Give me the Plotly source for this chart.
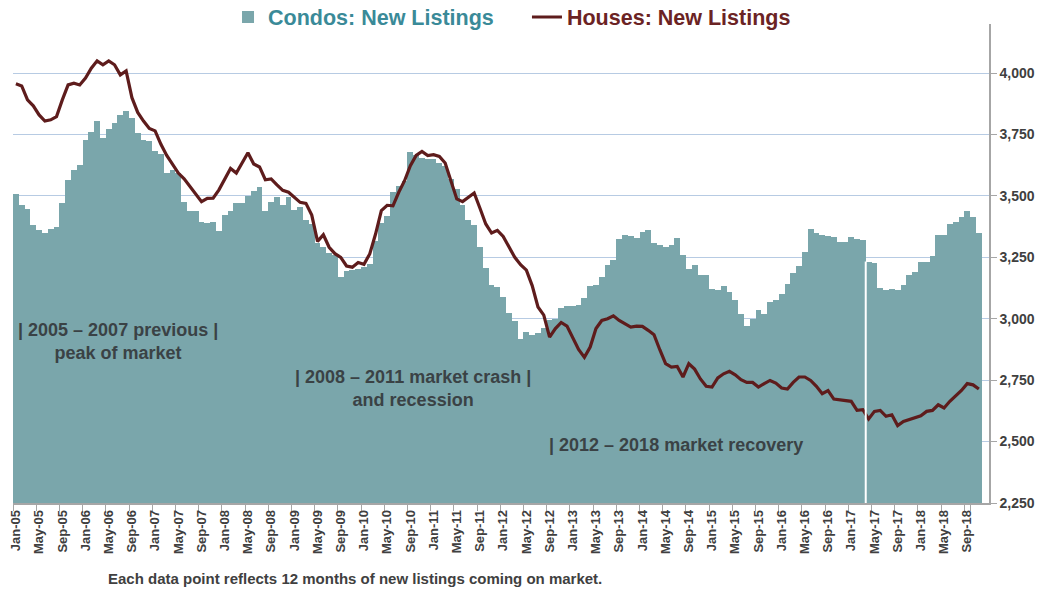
import plotly.graph_objects as go

# ---- data -------------------------------------------------------------
months = ["Jan", "Feb", "Mar", "Apr", "May", "Jun",
          "Jul", "Aug", "Sep", "Oct", "Nov", "Dec"]
categories = [f"{m}-{y:02d}" for y in range(5, 19) for m in months][:167]  # Jan-05 .. Nov-18

condos = [
    3508, 3464, 3447, 3381, 3360, 3351, 3365, 3372, 3471, 3563, 3607, 3627,
    3729, 3762, 3807, 3736, 3772, 3799, 3830, 3844, 3817, 3756, 3729, 3722,
    3681, 3670, 3593, 3607, 3595, 3477, 3437, 3437, 3392, 3390, 3392, 3358,
    3423, 3440, 3471, 3473, 3498, 3520, 3535, 3440, 3475, 3497, 3462, 3495,
    3442, 3456, 3402, 3385, 3310, 3294, 3268, 3258, 3172, 3193, 3197, 3202,
    3210, 3225, 3315, 3390, 3420, 3518, 3539, 3559, 3679, 3668, 3654, 3650,
    3650, 3634, 3620, 3569, 3528, 3464, 3403, 3383, 3294, 3207, 3138, 3129,
    3090, 3025, 2990, 2917, 2948, 2935, 2944, 2962, 2996, 2999, 3044, 3050,
    3050, 3057, 3084, 3132, 3139, 3170, 3220, 3240, 3325, 3342, 3335, 3330,
    3355, 3360, 3310, 3301, 3294, 3301, 3328, 3260, 3203, 3220, 3179, 3177,
    3121, 3116, 3135, 3111, 3075, 3020, 2972, 3000, 3037, 3020, 3067, 3075,
    3100, 3141, 3187, 3214, 3270, 3365, 3350, 3343, 3336, 3333, 3311, 3311,
    3333, 3325, 3319, 3233, 3229, 3125, 3118, 3123, 3118, 3139, 3179, 3189,
    3233, 3233, 3254, 3342, 3342, 3387, 3392, 3414, 3437, 3414, 3349,
]

houses = [
    3957, 3948, 3891, 3867, 3830, 3805, 3810, 3823, 3891, 3952, 3959, 3952,
    3980, 4020, 4050, 4034, 4050, 4034, 3993, 4009, 3900, 3840, 3805, 3775,
    3765, 3710, 3665, 3627, 3593, 3570, 3539, 3512, 3477, 3490, 3491, 3525,
    3566, 3612, 3593, 3634, 3676, 3630, 3618, 3566, 3569, 3545, 3523, 3515,
    3493, 3474, 3470, 3422, 3315, 3342, 3291, 3265, 3250, 3215, 3210, 3229,
    3222, 3264, 3345, 3440, 3462, 3460, 3515, 3562, 3623, 3665, 3681, 3664,
    3668, 3661, 3634, 3560, 3488, 3477, 3493, 3512, 3450, 3386, 3349, 3360,
    3335, 3295, 3250, 3220, 3198, 3135, 3048, 3015, 2925, 2960, 2985, 2970,
    2925, 2875, 2843, 2885, 2960, 2993, 3000, 3012, 2993, 2978, 2966, 2970,
    2969, 2953, 2935, 2874, 2817, 2803, 2806, 2763, 2817, 2795, 2755, 2725,
    2722, 2759, 2776, 2786, 2772, 2752, 2741, 2741, 2722, 2736, 2749, 2738,
    2718, 2714, 2741, 2763, 2763, 2749, 2725, 2695, 2708, 2673, 2670, 2670,
    2664, 2627, 2630, 2592, 2623, 2627, 2603, 2609, 2565, 2582, 2589, 2596,
    2605, 2623, 2627, 2650, 2637, 2664, 2684, 2708, 2736, 2731, 2714,
]

y_ticks = [2250, 2500, 2750, 3000, 3250, 3500, 3750, 4000]
x_tick_labels = categories[::4]
gap_month = "Apr-17"  # thin white separator before this month's bar

notes = [
    ("| 2005 – 2007 previous |<br>peak of market", 0.108, 0.338),
    ("| 2008 – 2011 market crash |<br>and recession", 0.410, 0.240),
    ("| 2012 – 2018 market recovery", 0.679, 0.121),
]
footnote = "Each data point reflects 12 months of new listings coming on market."

# ---- styles -------------------------------------------------------------
FONT = "Arial, 'Liberation Sans', sans-serif"
BAR = "#7aa6ab"
LINE = "#5e1c1c"
GRID = "#b7cbe3"
AXIS = "#a6a6a6"
TXT = "#404040"

fig = go.Figure()
fig.add_trace(go.Bar(
    x=categories, y=condos, name="Condos: New Listings",
    marker=dict(color=BAR, line=dict(width=0)),
    legend="legend",
))
fig.add_trace(go.Scatter(
    x=categories, y=houses, name="Houses: New Listings", mode="lines",
    line=dict(color=LINE, width=3.2),
    legend="legend2",
))

gi = categories.index(gap_month)
fig.add_shape(type="line", xref="x", yref="y",
              x0=gi - 0.5, x1=gi - 0.5, y0=y_ticks[0],
              y1=min(condos[gi - 1], condos[gi]),
              line=dict(color="white", width=2), layer="above")

for text, x, y in notes:
    fig.add_annotation(text=text, xref="paper", yref="paper",
                       x=x, y=y, xanchor="center", yanchor="middle",
                       showarrow=False, align="center",
                       font=dict(family=FONT, size=18, color="#3a4245", weight="bold"))

fig.add_annotation(text=footnote, xref="paper", yref="paper",
                   x=0.35, y=-0.157, xanchor="center", yanchor="middle",
                   showarrow=False,
                   font=dict(family=FONT, size=15, color=TXT, weight="bold"))

fig.update_layout(
    width=1045, height=590,
    margin=dict(l=13, r=56, t=24, b=87, autoexpand=False),
    paper_bgcolor="white", plot_bgcolor="white",
    bargap=0,
    font=dict(family=FONT, color=TXT),
    legend=dict(orientation="h", x=0.2203, y=1.0146, xanchor="left", yanchor="middle",
                font=dict(family=FONT, size=21.5, color="#3a8a98", weight="bold"),
                bgcolor="rgba(0,0,0,0)", itemwidth=30),
    legend2=dict(orientation="h", x=0.5266, y=1.0146, xanchor="left", yanchor="middle",
                 font=dict(family=FONT, size=21.5, color="#6b2324", weight="bold"),
                 bgcolor="rgba(0,0,0,0)", itemwidth=30),
    showlegend=True,
)

fig.update_xaxes(
    type="category", range=[-0.5, 167.75],
    tickmode="array", tickvals=x_tick_labels, ticktext=x_tick_labels,
    tickson="boundaries", tickangle=-90,
    ticks="outside", ticklen=6, tickcolor=AXIS,
    tickfont=dict(family=FONT, size=13, color=TXT, weight="bold"),
    showline=True, linecolor=AXIS, linewidth=1.5,
    showgrid=False, zeroline=False,
)
fig.update_yaxes(
    side="right", range=[2250, 4200],
    tickmode="array", tickvals=y_ticks,
    ticktext=[f"{v:,}" for v in y_ticks],
    ticks="outside", ticklen=6, tickcolor=AXIS,
    tickfont=dict(family=FONT, size=14, color=TXT, weight="bold"),
    showline=True, linecolor=AXIS, linewidth=1.5,
    showgrid=True, gridcolor=GRID, gridwidth=1,
    zeroline=False,
)

fig.write_html("out.html")
